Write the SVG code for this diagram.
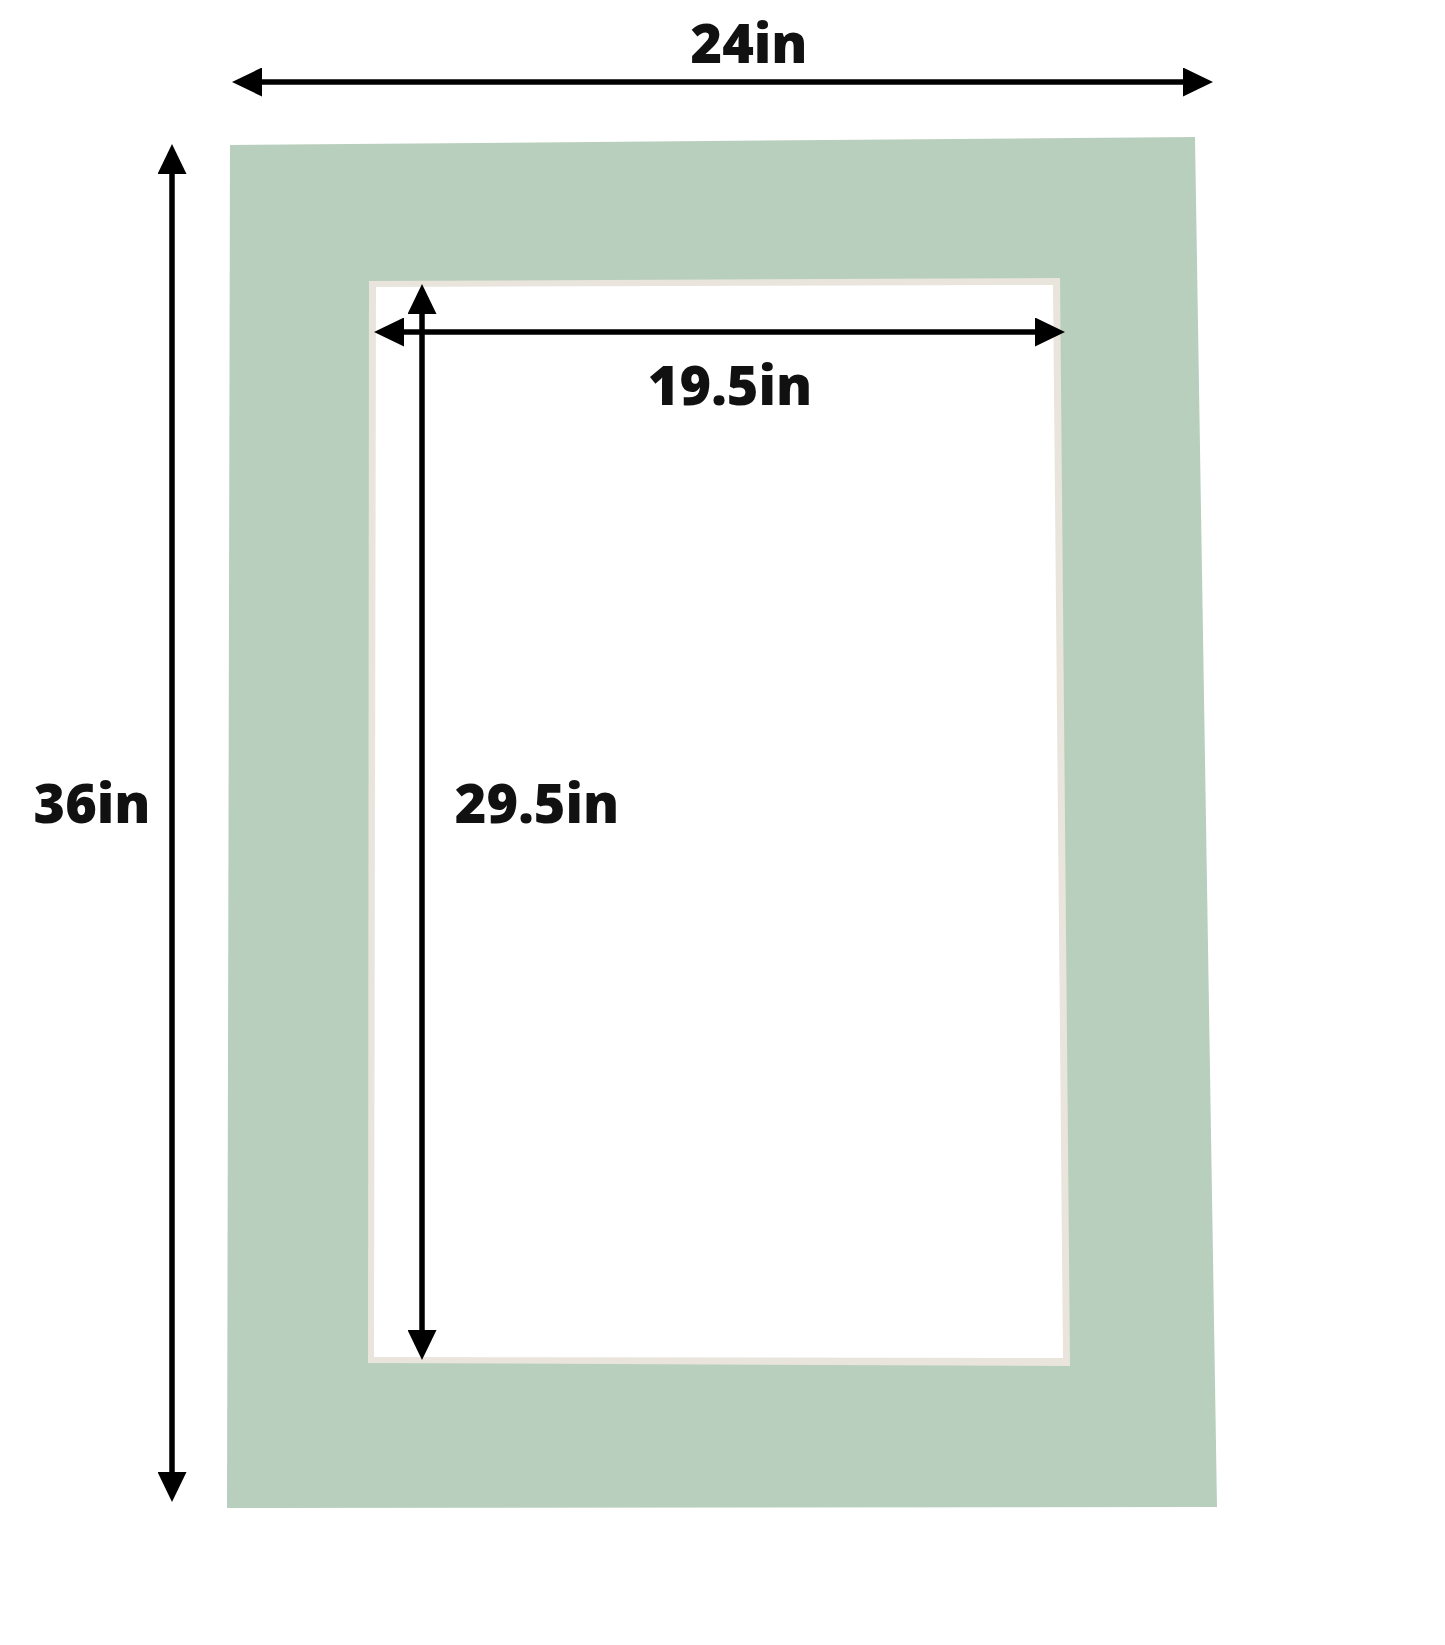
<svg xmlns="http://www.w3.org/2000/svg" width="1445" height="1645" viewBox="0 0 1445 1645">
  <style>
    .dim { fill: #111111; font-family: "Open Sans", "Liberation Sans", sans-serif; font-weight: 800; font-size: 54px; text-anchor: middle; }
    .arrow { stroke: #000000; stroke-width: 5.5; fill: none; marker-start: url(#head); marker-end: url(#head); }
  </style>
  <defs>
    <marker id="head" viewBox="0 0 30 29" markerWidth="30" markerHeight="29" refX="1" refY="14.5" markerUnits="userSpaceOnUse" orient="auto-start-reverse">
      <path d="M0,0 L30,14.5 L0,29 Z" fill="#000000"/>
    </marker>
  </defs>
  <rect width="1445" height="1645" fill="#ffffff"/>
  <g id="mat">
    <polygon points="230,145 1195,137 1217,1507 227,1508" fill="#b9cfbd"/>
    <polygon points="369,281 1060,278 1070,1366 368,1363" fill="#e9e5dd"/>
    <polygon points="376,287 1053,285 1063,1358 374,1357" fill="#ffffff"/>
  </g>
  <g id="connectors">
    <line class="arrow" x1="261" y1="82" x2="1184" y2="82"/>
    <line class="arrow" x1="172" y1="173" x2="172" y2="1473"/>
    <line class="arrow" x1="403" y1="332" x2="1036" y2="332"/>
    <line class="arrow" x1="422" y1="313" x2="422" y2="1331"/>
  </g>
  <g id="labels">
    <text id="label-24" class="dim" x="749" y="63">24in</text>
    <text id="label-19-5" class="dim" x="730" y="405">19.5in</text>
    <text id="label-36" class="dim" x="92" y="823">36in</text>
    <text id="label-29-5" class="dim" x="537" y="823">29.5in</text>
  </g>
</svg>
